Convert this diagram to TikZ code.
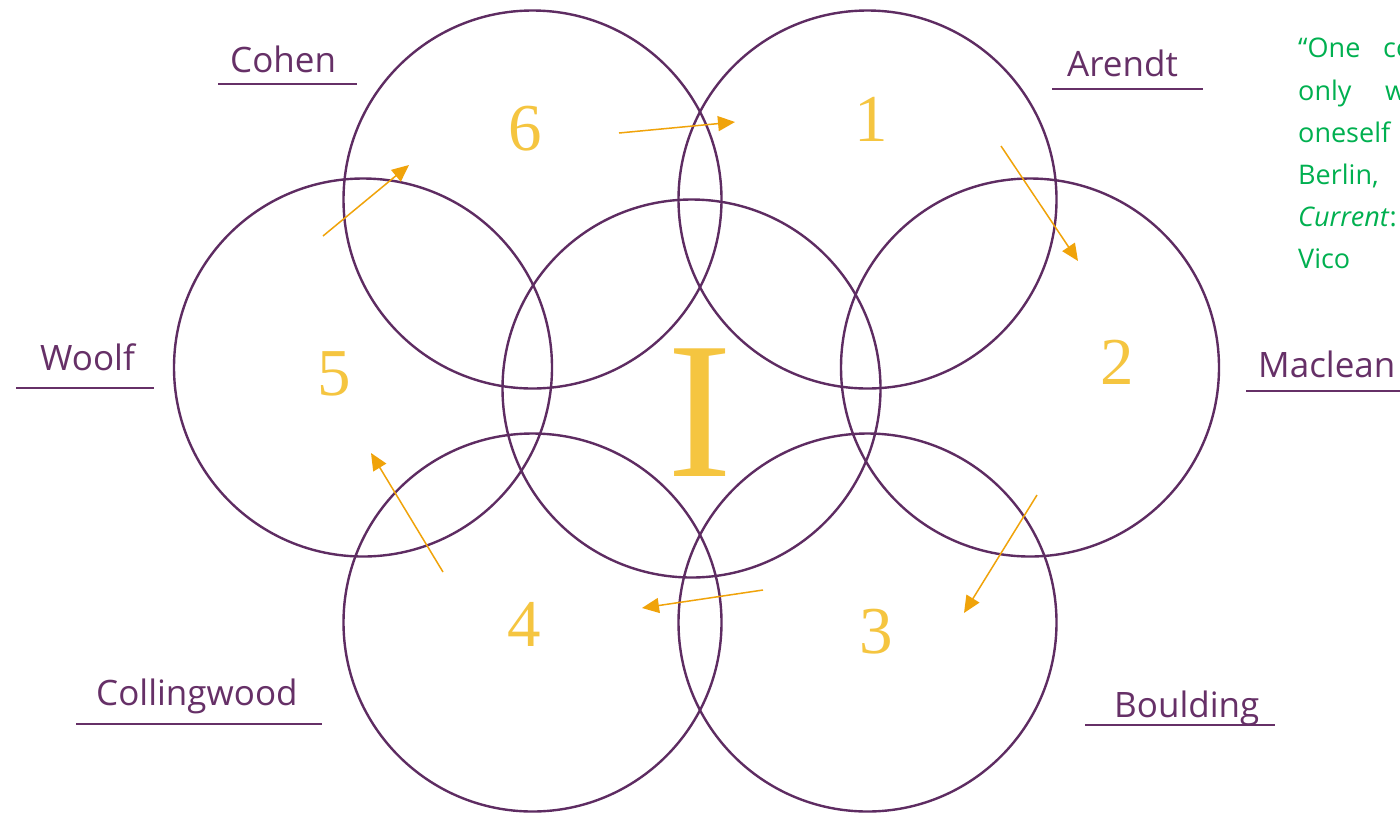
\documentclass[tikz,border=0pt]{standalone}
\usepackage{fontspec}
\setmainfont{Open Sans}
\newfontfamily\numfont{Liberation Serif}
\usetikzlibrary{arrows.meta}
\definecolor{circpurple}{HTML}{5E2C62}
\definecolor{labpurple}{HTML}{663067}
\definecolor{numgold}{HTML}{F5C540}
\definecolor{arrorange}{HTML}{F0A30A}
\definecolor{quotegreen}{HTML}{00B050}
\begin{document}
\begin{tikzpicture}[x=1pt,y=-1pt,
  ring/.style={circle,draw=circpurple,line width=2.4pt,minimum size=378pt,inner sep=0pt},
  lab/.style={text=labpurple,font=\fontsize{35}{42}\selectfont,inner sep=0pt,anchor=base west},
  uline/.style={draw=labpurple,line width=2pt},
  num/.style={text=numgold,font=\numfont\fontsize{67}{70}\selectfont,inner sep=0pt,anchor=base},
  big/.style={text=numgold,font=\numfont\fontsize{195}{200}\selectfont,inner sep=0pt,anchor=base},
  flow/.style={draw=arrorange,line width=1.5pt,-{Triangle[length=17pt,width=15pt]}},
  quote/.style={text=quotegreen,font=\fontsize{27}{42}\selectfont,inner sep=0pt,anchor=base west}]
\useasboundingbox (0,0) rectangle (1400,815);
\fill[white] (0,0) rectangle (1400,815);

% circles
\node[ring] (cI) at (691.5,388.5) {};
\node[ring] (c6) at (532.5,199.5) {};
\node[ring] (c1) at (867.5,199.5) {};
\node[ring] (c2) at (1030,367.5) {};
\node[ring] (c3) at (867.5,622.5) {};
\node[ring] (c4) at (532.5,622.5) {};
\node[ring] (c5) at (363,367.5) {};

% numbers
\node[big] (tI) at (700,476) {I};
\node[num] (t6) at (525,150) {6};
\node[num] (t1) at (871,141) {1};
\node[num] (t2) at (1117,384) {2};
\node[num] (t3) at (876,653) {3};
\node[num] (t4) at (524,646) {4};
\node[num] (t5) at (334,395) {5};

% arrows
\coordinate (a6s) at (619,133); \coordinate (a6e) at (735,122);
\coordinate (a1s) at (1001,146); \coordinate (a1e) at (1078,261);
\coordinate (a2s) at (1037,495); \coordinate (a2e) at (964,613);
\coordinate (a3s) at (763,590); \coordinate (a3e) at (642,608);
\coordinate (a4s) at (443,572); \coordinate (a4e) at (371,453);
\coordinate (a5s) at (323,236); \coordinate (a5e) at (409,165);
\draw[flow] (a6s) -- (a6e);
\draw[flow] (a1s) -- (a1e);
\draw[flow] (a2s) -- (a2e);
\draw[flow] (a3s) -- (a3e);
\draw[flow] (a4s) -- (a4e);
\draw[flow] (a5s) -- (a5e);

% labels
\node[lab] (cohen) at (230,72) {Cohen};
\draw[uline] (218,84) -- (357,84);
\node[lab] (arendt) at (1067,76) {Arendt};
\draw[uline] (1052,89) -- (1203,89);
\node[lab] (maclean) at (1258,377) {Maclean};
\draw[uline] (1246,391) -- (1400,391);
\node[lab] (woolf) at (40,370) {Woolf};
\draw[uline] (16,388) -- (154,388);
\node[lab] (colling) at (96,705) {Collingwood};
\draw[uline] (76,724) -- (322,724);
\node[lab] (boulding) at (1114,717) {Boulding};
\draw[uline] (1085,725) -- (1275,725);

% quote (cut at the right edge, as in the reference)
\node[quote] (q1a) at (1298,57) {“One};
\node[quote] (q1b) at (1383,57) {co};
\node[quote] (q2a) at (1298,100) {only};
\node[quote] (q2b) at (1385,100) {w};
\node[quote] (q3) at (1298,142) {oneself};
\node[quote] (q4) at (1298,184) {Berlin,};
\node[quote] (q5) at (1298,226) {\textit{Current}:};
\node[quote] (q6) at (1298,268) {Vico};
\end{tikzpicture}
\end{document}
